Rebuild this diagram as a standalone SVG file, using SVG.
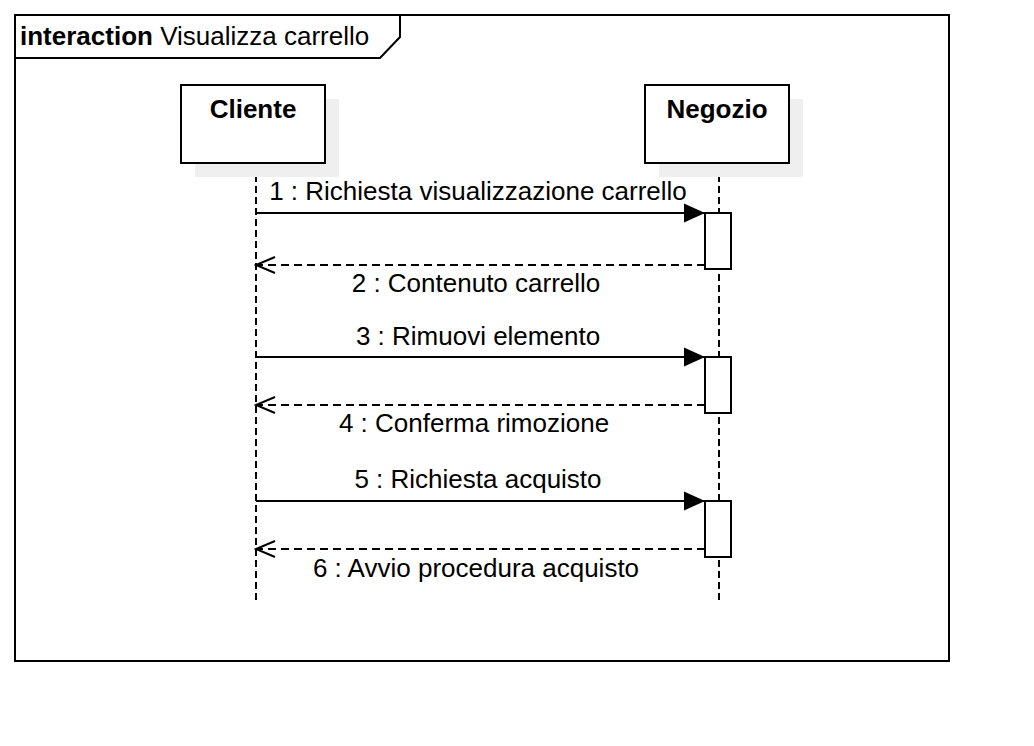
<svg xmlns="http://www.w3.org/2000/svg" width="1034" height="746" viewBox="0 0 1034 746">
<style>
  text { font-family: "Liberation Sans", Arial, sans-serif; font-size: 26px; fill: #000; }
  .b { font-weight: bold; }
  .lbl { text-anchor: middle; }
  .frame { fill: none; stroke: #000; stroke-width: 2; }
  .box { fill: #fff; stroke: #000; stroke-width: 2; }
  .shadow { fill: #efefef; stroke: none; }
  .life { stroke: #000; stroke-width: 2; stroke-dasharray: 7 4; fill: none; }
  .call { stroke: #000; stroke-width: 2; fill: none; }
  .ret { stroke: #000; stroke-width: 2; stroke-dasharray: 8 5; fill: none; }
  .act { fill: #fff; stroke: #000; stroke-width: 2; }
</style>
<defs>
  <marker id="filled" markerUnits="userSpaceOnUse" markerWidth="22" markerHeight="20" refX="21" refY="10" orient="auto">
    <path d="M0,0.5 L21,10 L0,19.5 Z" fill="#000"/>
  </marker>
  <marker id="open" markerUnits="userSpaceOnUse" markerWidth="22" markerHeight="20" refX="20" refY="10" orient="auto">
    <path d="M1,2 L20,10 L1,18" fill="none" stroke="#000" stroke-width="2"/>
  </marker>
</defs>
<rect width="1034" height="746" fill="#fff"/>

<g id="frame">
  <rect class="frame" x="15" y="15" width="934" height="646"/>
  <path class="frame" d="M15,58 L380,58 L400,37 L400,15"/>
  <text x="20" y="45"><tspan class="b">interaction</tspan> Visualizza carrello</text>
</g>

<g id="lifelines">
  <line class="life" x1="256" y1="164" x2="256" y2="604"/>
  <line class="life" x1="719" y1="164" x2="719" y2="604"/>
</g>

<g id="Cliente">
  <rect class="shadow" x="195" y="99" width="144" height="78"/>
  <rect class="box" x="181" y="85" width="144" height="78"/>
  <text class="b lbl" x="253" y="118">Cliente</text>
</g>

<g id="Negozio">
  <rect class="shadow" x="659" y="99" width="144" height="78"/>
  <rect class="box" x="645" y="85" width="144" height="78"/>
  <text class="b lbl" x="717" y="118">Negozio</text>
</g>

<g id="activations">
  <rect class="act" x="705" y="213" width="26" height="56"/>
  <rect class="act" x="705" y="357" width="26" height="56"/>
  <rect class="act" x="705" y="501" width="26" height="56"/>
</g>

<g id="connectors">
  <line class="call" x1="256" y1="213" x2="705" y2="213" marker-end="url(#filled)"/>
  <line class="ret" x1="705" y1="265" x2="256" y2="265" marker-end="url(#open)"/>
  <line class="call" x1="256" y1="357" x2="705" y2="357" marker-end="url(#filled)"/>
  <line class="ret" x1="705" y1="405" x2="256" y2="405" marker-end="url(#open)"/>
  <line class="call" x1="256" y1="501" x2="705" y2="501" marker-end="url(#filled)"/>
  <line class="ret" x1="705" y1="549" x2="256" y2="549" marker-end="url(#open)"/>
</g>

<g id="labels">
  <text class="lbl" x="478" y="200">1 : Richiesta visualizzazione carrello</text>
  <text class="lbl" x="476" y="292">2 : Contenuto carrello</text>
  <text class="lbl" x="478" y="345">3 : Rimuovi elemento</text>
  <text class="lbl" x="474" y="432">4 : Conferma rimozione</text>
  <text class="lbl" x="478" y="488">5 : Richiesta acquisto</text>
  <text class="lbl" x="476" y="577">6 : Avvio procedura acquisto</text>
</g>
</svg>
